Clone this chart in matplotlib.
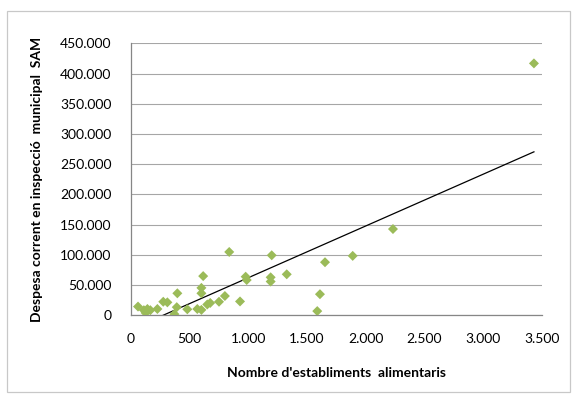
import numpy as np
import matplotlib.pyplot as plt
from matplotlib.patches import Rectangle
from matplotlib.ticker import FuncFormatter

# establiments alimentaris vs despesa SAM
establiments = [60, 110, 125, 140, 165, 225, 275, 310, 370, 390, 395, 480, 565,
                600, 600, 600, 615, 650, 675, 750, 800, 837, 929, 977, 986,
                1190, 1190, 1199, 1327, 1587, 1610, 1653, 1889, 2232, 3433]
despesa = [14000, 8000, 3500, 10000, 8000, 10000, 22000, 21000, 1500, 13000,
           36000, 9500, 10000, 8500, 36000, 45000, 64500, 17500, 20000, 22000,
           31500, 104500, 22500, 63500, 58000, 55500, 62500, 99000, 67500,
           6500, 34500, 87500, 98000, 142500, 417000]

x_ticks = [0, 500, 1000, 1500, 2000, 2500, 3000, 3500]
y_ticks = [0, 50000, 100000, 150000, 200000, 250000, 300000, 350000, 400000, 450000]

plt.rcParams['font.family'] = ['Lato', 'DejaVu Sans']

fig = plt.figure(figsize=(5.77, 3.97), dpi=100)
ax = fig.add_axes([0.227, 0.2065, 0.712, 0.684])

# chart border
fig.patches.append(Rectangle((7 / 577, 5 / 397), 563 / 577, 381 / 397,
                             transform=fig.transFigure, fill=False,
                             edgecolor='#c8c8c8', linewidth=0.9))

ax.scatter(establiments, despesa, marker='D', s=26, color='#9bbb59',
           edgecolors='none', zorder=3)

# linear trendline
x = np.array(establiments, dtype=float)
y = np.array(despesa, dtype=float)
m, b = np.polyfit(x, y, 1)
xs = np.array([x.min(), x.max()])
ax.plot(xs, m * xs + b, color='black', linewidth=0.9, zorder=2)

ax.set_xlim(0, 3500)
ax.set_ylim(0, 450000)
ax.set_xticks(x_ticks)
ax.set_yticks(y_ticks)
fmt = FuncFormatter(lambda v, p: f"{int(v):,}".replace(',', '.'))
ax.xaxis.set_major_formatter(fmt)
ax.yaxis.set_major_formatter(fmt)
ax.tick_params(length=0, labelsize=10, colors='black')
ax.tick_params(axis='x', pad=13)
ax.tick_params(axis='y', pad=14)

ax.grid(axis='y', color='#a6a6a6', linewidth=0.8)
ax.set_axisbelow(True)
for s in ['top', 'right']:
    ax.spines[s].set_visible(False)
for s in ['left', 'bottom']:
    ax.spines[s].set_color('#868686')
    ax.spines[s].set_linewidth(0.9)

ax.set_xlabel("Nombre d'establiments  alimentaris", fontsize=10, fontweight='bold', labelpad=16)
ax.set_ylabel("Despesa corrent en inspecció  municipal  SAM", fontsize=10, fontweight='bold', labelpad=12)

fig.savefig('out.png', dpi=100)
